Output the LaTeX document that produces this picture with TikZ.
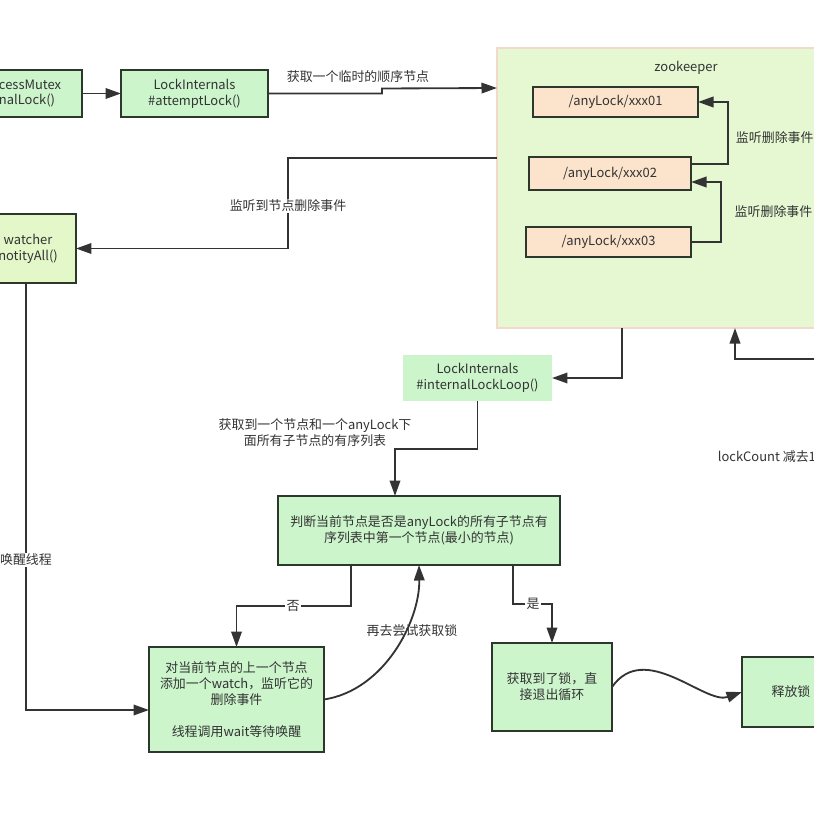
\documentclass[tikz,border=0pt]{standalone}
\usepackage{fontspec}
\setmainfont{Noto Sans CJK SC}
\usepackage{tikz}
\usetikzlibrary{arrows.meta, positioning, calc}

\definecolor{boxgreen}{HTML}{CCF5CC}
\definecolor{palegreen}{HTML}{E6F8D2}
\definecolor{watchgreen}{HTML}{E3F7C8}
\definecolor{peach}{HTML}{FCE3CB}
\definecolor{zkedge}{HTML}{F3D8CC}
\definecolor{inkline}{HTML}{333333}
\definecolor{boxedge}{HTML}{2B382B}

\begin{document}
\begin{tikzpicture}[x=0.025cm, y=-0.025cm,
    font=\fontsize{9.2}{11.3}\selectfont, text=inkline,
    stepbox/.style={draw=boxedge, line width=1.4pt, fill=boxgreen, align=center, outer sep=0pt},
    seqbox/.style={draw=boxedge, line width=1.4pt, fill=peach, outer sep=0pt, minimum height=0.75cm},
    flow/.style={draw=inkline, line width=1.3pt, -{Triangle[length=11pt,width=7.5pt]}},
    tag/.style={fill=white, inner sep=1pt}]
    \useasboundingbox (0,0) rectangle (814,814);
    \fill[white] (0,0) rectangle (814,814);
    \clip (0,0) rectangle (814,814);

    \node[draw=zkedge, line width=1.4pt, fill=palegreen, outer sep=0pt, minimum width=8.825cm, minimum height=7cm] (zk) at (673.5,188) {};
    \node (zklabel) at (686,68) {zookeeper};
    \node[seqbox, minimum width=4.125cm] (seq1) at (615.5,102) {/anyLock/xxx01};
    \node[seqbox, minimum width=4.05cm, minimum height=0.825cm] (seq2) at (610,173.5) {/anyLock/xxx02};
    \node[seqbox, minimum width=4.125cm] (seq3) at (608.5,242) {/anyLock/xxx03};

    \node[stepbox, minimum height=1.175cm, text width=1.975cm, inner xsep=0.1cm, align=left] (mutex) at (38.5,93.5) {cessMutex\\nalLock()};
    \node[stepbox, minimum width=3.675cm, minimum height=1.175cm] (attempt) at (194.5,93.5) {LockInternals\\\#attemptLock()};
    \node[stepbox, fill=watchgreen, minimum width=2.4cm, minimum height=1.725cm] (watcher) at (28,248.5) {watcher\\notityAll()};
    \node[stepbox, draw=none, minimum width=3.725cm, minimum height=1.15cm] (loop) at (477.5,378) {LockInternals\\\#internalLockLoop()};
    \node[stepbox, minimum width=7.05cm, minimum height=1.725cm] (judge) at (419,530.5) {判断当前节点是否是anyLock的所有子节点有\\序列表中第一个节点(最小的节点)};
    \node[stepbox, minimum width=4.375cm, minimum height=2.625cm] (wait) at (236.5,699.5) {对当前节点的上一个节点\\添加一个watch，监听它的\\删除事件\\[11.3pt]线程调用wait等待唤醒};
    \node[stepbox, minimum width=3cm, minimum height=2.2cm] (got) at (552,687) {获取到了锁，直\\接退出循环};
    \node[stepbox, minimum width=2.45cm, minimum height=1.75cm] (release) at (791,692) {释放锁};

    \draw[flow] (mutex.east) -- (attempt.west);
    \draw[flow] (attempt.east) -- ++(114,0) -- ++(0,-5) -- ($(zk.west)+(0,-100)$);
    \node (lbltemp) at (358,77) {获取一个临时的顺序节点};

    \draw[flow] (seq2.east |- 0,164) -- ++(37,0) |- (seq1.east);
    \node[anchor=west] (lblwatch1) at (731,138) {监听删除事件};
    \draw[flow] (seq3.east) -- ++(30,0) |- (seq2.east |- 0,182);
    \node[anchor=east, inner xsep=1pt] (lblwatch2) at (814,212) {监听删除事件};

    \draw[flow] (zk.west |- 0,158) -- ++(-209,0) |- (watcher.east);
    \node[tag] (lbldel) at (288,206) {监听到节点删除事件};

    \draw[flow] ($(watcher.south)+(-2,0)$) |- ($(wait.west)+(0,10.5)$);
    \node[tag] (lblwake) at (26,560) {唤醒线程};

    \draw[flow] (zk.south -| 622,0) |- (loop.east);
    \coordinate (lockin) at (830,359);
    \draw[flow] (lockin) -| (zk.south -| 735,0);
    \node[anchor=west] (lblcount) at (713,457) {lockCount 减去1};

    \draw[flow] (loop.south) -- ++(0,48) -| (judge.north -| 395,0);
    \node[align=center] (lbllist) at (315,433) {获取到一个节点和一个anyLock下\\面所有子节点的有序列表};

    \draw[flow] (judge.south -| 351,0) -- ++(0,41) -| (wait.north);
    \node[tag] (lblno) at (293,606) {否};
    \draw[flow] (judge.south -| 513,0) -- ++(0,39) -| (got.north);
    \node[tag] (lblyes) at (533,604) {是};

    \draw[flow] (wait.east) .. controls (385,690) and (420,620) .. (judge.south);
    \node (lblretry) at (412,631) {再去尝试获取锁};

    \draw[flow] (got.east) .. controls (645,640) and (705,705) .. (release.west);
\end{tikzpicture}
\end{document}
